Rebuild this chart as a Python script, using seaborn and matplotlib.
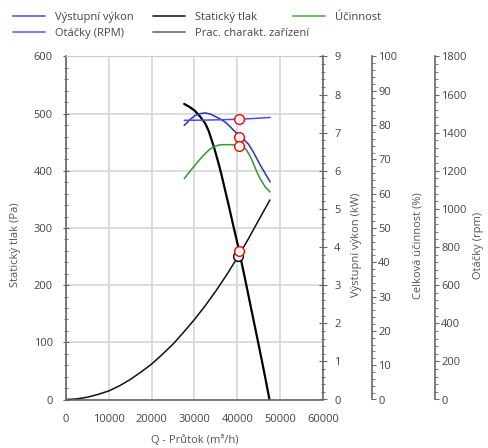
import pandas as pd
import matplotlib.pyplot as plt
import seaborn as sns
from matplotlib.lines import Line2D
from matplotlib.ticker import MultipleLocator

# values
q_static = [27600, 28800, 30100, 31300, 32500, 33300, 34000, 34600, 35200, 35800,
            36400, 37150, 38000, 39000, 40400, 41800, 43200, 44500, 45700, 46600, 47500]
p_static = [517, 512, 505, 495, 483, 470, 454, 440, 424, 408,
            390, 366, 339, 306, 261, 211, 160, 113, 69, 35, 0]

q_system = [0, 2500, 5000, 7500, 10000, 12500, 15000, 17500, 20000, 22500,
            25000, 27500, 30000, 32500, 35000, 37500, 40000, 42500, 45000, 47600]
p_system = [0, 1, 4, 9, 15, 24, 35, 48, 62, 79,
            97, 118, 140, 164, 190, 218, 248, 280, 314, 349]

q_power = [27600, 28800, 30100, 31300, 32500, 33700, 34800, 36000, 37150, 38100,
           39100, 40650, 41600, 42600, 43600, 44550, 45500, 46500, 47650]
power_kw = [7.19, 7.33, 7.45, 7.50, 7.52, 7.49, 7.43, 7.36, 7.28, 7.18,
            7.07, 6.90, 6.81, 6.70, 6.52, 6.32, 6.12, 5.93, 5.71]

q_rpm = [27600, 32000, 36000, 40650, 44000, 47650]
rpm = [1465, 1466, 1468, 1471, 1475, 1480]

q_eff = [27600, 28800, 30100, 31300, 32500, 33500, 34400, 35400, 36400, 38500,
         40650, 41500, 42200, 43000, 43750, 44500, 45300, 46500, 47650]
eff = [64.4, 66.3, 68.3, 70.1, 71.7, 72.9, 73.6, 74.1, 74.3, 74.3,
       74.0, 73.5, 72.6, 70.9, 68.8, 66.5, 64.4, 62.0, 60.5]

# operating point
q_op = 40500
op_p, op_kw, op_eff, op_rpm = 260, 6.90, 74.0, 1470
q_sys_pt, p_sys_pt = 40100, 251

sns.set_style("white")
plt.rcParams['font.family'] = ['Open Sans', 'DejaVu Sans']
plt.rcParams['font.size'] = 8

txt = '#555555'
spine_c = '#666666'
c_power = '#3030b8'
c_rpm = '#4a4aff'
c_eff = '#2e9a2e'

fig = plt.figure(figsize=(4.89, 4.48), dpi=100)
ax = fig.add_axes([66 / 489, 1 - 399.5 / 448, 257 / 489, 343 / 448])
ax_kw = ax.twinx()
ax_eff = ax.twinx()
ax_rpm = ax.twinx()

# pressure curves
sns.lineplot(x=q_system, y=p_system, ax=ax, color='#111111', lw=1.1, sort=False)
sns.lineplot(x=q_static, y=p_static, ax=ax, color='black', lw=1.6, sort=False)
ax.plot(q_sys_pt, p_sys_pt, 'o', ms=7, mfc='white', mec='black', mew=1)
ax.plot(q_op, op_p, 'o', ms=7, mfc='white', mec='red', mew=1)

sns.lineplot(x=q_power, y=power_kw, ax=ax_kw, color=c_power, lw=1.1, sort=False)
ax_kw.plot(q_op, op_kw, 'o', ms=7, mfc='white', mec='red', mew=1)

sns.lineplot(x=q_eff, y=eff, ax=ax_eff, color=c_eff, lw=1.1, sort=False)
ax_eff.plot(q_op, op_eff, 'o', ms=7, mfc='white', mec='red', mew=1)

sns.lineplot(x=q_rpm, y=rpm, ax=ax_rpm, color=c_rpm, lw=1.1, sort=False)
ax_rpm.plot(q_op, op_rpm, 'o', ms=7, mfc='white', mec='red', mew=1)

# main axis
ax.set_xlim(0, 60000)
ax.set_ylim(0, 600)
ax.xaxis.set_major_locator(MultipleLocator(10000))
ax.xaxis.set_minor_locator(MultipleLocator(2000))
ax.yaxis.set_major_locator(MultipleLocator(100))
ax.yaxis.set_minor_locator(MultipleLocator(20))
ax.grid(True, which='major', color='#d9d9d9', lw=1.3)
ax.set_axisbelow(True)
ax.tick_params(axis='both', which='major', direction='inout', length=5,
               color=spine_c, labelcolor='#444444', labelsize=8)
ax.tick_params(axis='both', which='minor', direction='inout', length=3, color=spine_c)
ax.tick_params(axis='y', pad=7)
ax.tick_params(axis='x', pad=8)
ax.set_xlabel('Q - Průtok (m³/h)', color=txt, fontsize=8)
ax.set_ylabel('Statický tlak (Pa)', color=txt, fontsize=8)
ax.yaxis.set_label_coords(-0.175, 0.45)
ax.xaxis.set_label_coords(0.5, -0.103)
for s in ['left', 'bottom']:
    ax.spines[s].set_color(spine_c)
    ax.spines[s].set_linewidth(1.2)
ax.spines['top'].set_color('#cccccc')
ax.spines['right'].set_visible(False)

# right axes
right_axes = [
    (ax_kw, 1.0, (0, 9), 1, 0.2, 'Výstupní výkon (kW)', 1.11),
    (ax_eff, 1.19, (0, 100), 10, 2, 'Celková účinnost (%)', 1.35),
    (ax_rpm, 1.436, (0, 1800), 200, 40, 'Otáčky (rpm)', 1.584),
]
for a, pos, lim, major, minor, label, lab_x in right_axes:
    a.set_ylim(*lim)
    a.yaxis.set_major_locator(MultipleLocator(major))
    a.yaxis.set_minor_locator(MultipleLocator(minor))
    a.patch.set_visible(False)
    for s in ['left', 'top', 'bottom']:
        a.spines[s].set_visible(False)
    a.spines['right'].set_position(('axes', pos))
    a.spines['right'].set_color(spine_c)
    a.spines['right'].set_linewidth(1.2)
    a.grid(False)
    a.set_ylabel(label, color=txt, fontsize=8)
    a.yaxis.set_label_coords(lab_x, 0.45)
    a.tick_params(axis='y', which='major', length=3, color=spine_c,
                  labelcolor='#444444', labelsize=8, pad=1.5)
    a.tick_params(axis='y', which='minor', length=2, color=spine_c)
ax_kw.tick_params(axis='y', which='major', direction='inout', length=6, pad=5)
ax_kw.tick_params(axis='y', which='minor', direction='inout', length=3)

# legend, laid out in three groups like the original
handles = [
    Line2D([], [], color='#6464e0', lw=1.3, label='Výstupní výkon'),
    Line2D([], [], color='#7070ff', lw=1.3, label='Otáčky (RPM)'),
    Line2D([], [], color='#333333', lw=1.3, label='Statický tlak'),
    Line2D([], [], color='#777777', lw=1.3, label='Prac. charakt. zařízení'),
    Line2D([], [], color='#5cb85c', lw=1.3, label='Účinnost'),
]
groups = [(handles[0:2], 13), (handles[2:4], 153), (handles[4:5], 293)]
for hs, x0 in groups:
    fig.legend(handles=hs, loc='upper left', bbox_to_anchor=(x0 / 489, 1 - 12 / 448),
               frameon=False, fontsize=8, borderpad=0, borderaxespad=0,
               handlelength=2.9, handletextpad=0.9, labelspacing=0.42,
               labelcolor='#444444')

fig.savefig('out.png', dpi=100)
